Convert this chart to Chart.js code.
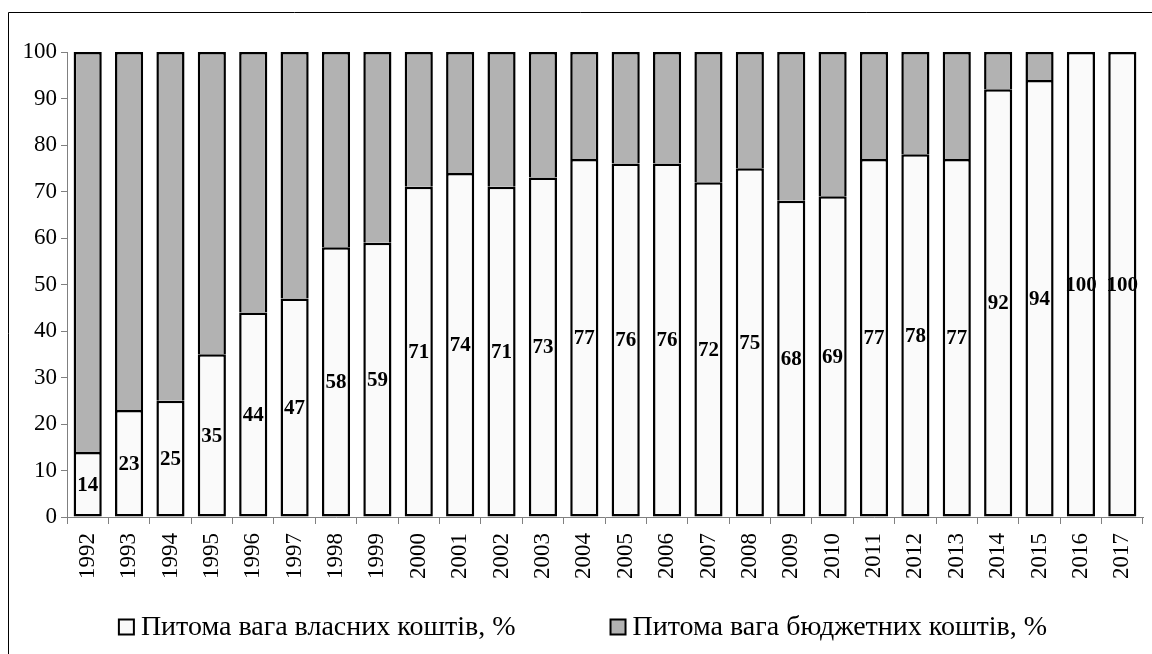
<!DOCTYPE html>
<html>
<head>
<meta charset="utf-8">
<script src="https://cdn.jsdelivr.net/npm/chart.js@4/dist/chart.umd.min.js"></script>
<style>
  html, body { margin: 0; padding: 0; background: #fff; }
  #wrap { width: 1152px; height: 654px; }
</style>
</head>
<body>
<div id="wrap"><canvas id="myChart" width="1152" height="654"></canvas></div>
<script>
// роки
const years = ["1992", "1993", "1994", "1995", "1996", "1997", "1998", "1999", "2000", "2001",
    "2002", "2003", "2004", "2005", "2006", "2007", "2008", "2009", "2010", "2011",
    "2012", "2013", "2014", "2015", "2016", "2017"];

// питома вага власних коштів, %
const ownShare = [14, 23, 25, 35, 44, 47, 58, 59, 71, 74, 71, 73, 77, 76, 76, 72, 75, 68, 69, 77,
    78, 77, 92, 94, 100, 100];

// питома вага бюджетних коштів, %
const budgetShare = [86, 77, 75, 65, 56, 53, 42, 41, 29, 26, 29, 27, 23, 24, 24, 28, 25, 32, 31, 23,
    22, 23, 8, 6, 0, 0];

const yTicks = [0, 10, 20, 30, 40, 50, 60, 70, 80, 90, 100];

const serif = "'Liberation Serif', 'Times New Roman', serif";

// рамка навколо малюнка
const framePlugin = {
    id: 'frame',
    beforeDraw(chart) {
        const c = chart.ctx;
        c.save();
        c.strokeStyle = '#000';
        c.lineWidth = 1;
        c.beginPath();
        c.moveTo(8.5, 700);
        c.lineTo(8.5, 12.5);
        c.lineTo(1200, 12.5);
        c.stroke();
        c.restore();
    }
};

// підписи значень всередині білих стовпців
const valueLabels = {
    id: 'valueLabels',
    afterDatasetsDraw(chart) {
        const c = chart.ctx;
        const meta = chart.getDatasetMeta(0);
        c.save();
        c.font = "bold 21px " + serif;
        c.fillStyle = '#000';
        c.textAlign = 'center';
        c.textBaseline = 'middle';
        meta.data.forEach((bar, i) => {
            const mid = (bar.y + bar.base) / 2;
            c.fillText(String(ownShare[i]), bar.x, mid + 1);
        });
        c.restore();
    }
};

// легенда внизу (вручну, щоб був великий проміжок між елементами)
const bottomLegend = {
    id: 'bottomLegend',
    afterDraw(chart) {
        const c = chart.ctx;
        const sets = chart.data.datasets;
        const box = 15, gapText = 7, gapItem = 95, centerX = 583, y = 627;
        c.save();
        c.font = "28px " + serif;
        c.textBaseline = 'middle';
        const widths = sets.map(ds => box + gapText + c.measureText(ds.label).width);
        const total = widths.reduce((a, b) => a + b, 0) + gapItem * (sets.length - 1);
        let x = centerX - total / 2;
        sets.forEach((ds, i) => {
            c.fillStyle = ds.backgroundColor;
            c.fillRect(x, y - box / 2, box, box);
            c.strokeStyle = '#000';
            c.lineWidth = 2;
            c.strokeRect(x, y - box / 2, box, box);
            c.fillStyle = '#000';
            c.fillText(ds.label, x + box + gapText, y + 1);
            x += widths[i] + gapItem;
        });
        c.restore();
    }
};

const ctx = document.getElementById('myChart');

new Chart(ctx, {
    type: 'bar',
    data: {
        labels: years,
        datasets: [{
            label: 'Питома вага власних коштів, %',
            data: ownShare,
            backgroundColor: '#FAFAFA',
            borderColor: '#000',
            borderWidth: 2.5,
            borderSkipped: false
        }, {
            label: 'Питома вага бюджетних коштів, %',
            data: budgetShare,
            backgroundColor: '#B2B2B2',
            borderColor: '#000',
            borderWidth: 2.5,
            borderSkipped: 'bottom'
        }]
    },
    options: {
        responsive: false,
        animation: false,
        devicePixelRatio: 1,
        layout: {
            padding: { top: 52, left: 0, right: 9, bottom: 0 }
        },
        datasets: {
            bar: { barPercentage: 0.68, categoryPercentage: 1.0 }
        },
        scales: {
            x: {
                stacked: true,
                afterFit(axis) {
                    axis.height = 137;
                    axis.paddingLeft = 0;
                    axis.paddingRight = 0;
                },
                grid: { drawOnChartArea: false, drawTicks: true, tickLength: 7, color: '#808080' },
                border: { color: '#808080', width: 1 },
                ticks: {
                    color: '#000',
                    font: { family: serif, size: 23 },
                    maxRotation: 90,
                    minRotation: 90,
                    padding: 9
                }
            },
            y: {
                stacked: true,
                min: 0,
                max: 100,
                afterFit(axis) { axis.width = 67; },
                afterBuildTicks(axis) {
                    axis.ticks = yTicks.map(v => ({ value: v }));
                },
                grid: { drawOnChartArea: false, drawTicks: true, tickLength: 6, color: '#808080' },
                border: { color: '#808080', width: 1 },
                ticks: {
                    color: '#000',
                    font: { family: serif, size: 23 },
                    padding: 4
                }
            }
        },
        plugins: {
            legend: { display: false },
            tooltip: { enabled: false }
        }
    },
    plugins: [framePlugin, valueLabels, bottomLegend]
});
</script>
</body>
</html>
